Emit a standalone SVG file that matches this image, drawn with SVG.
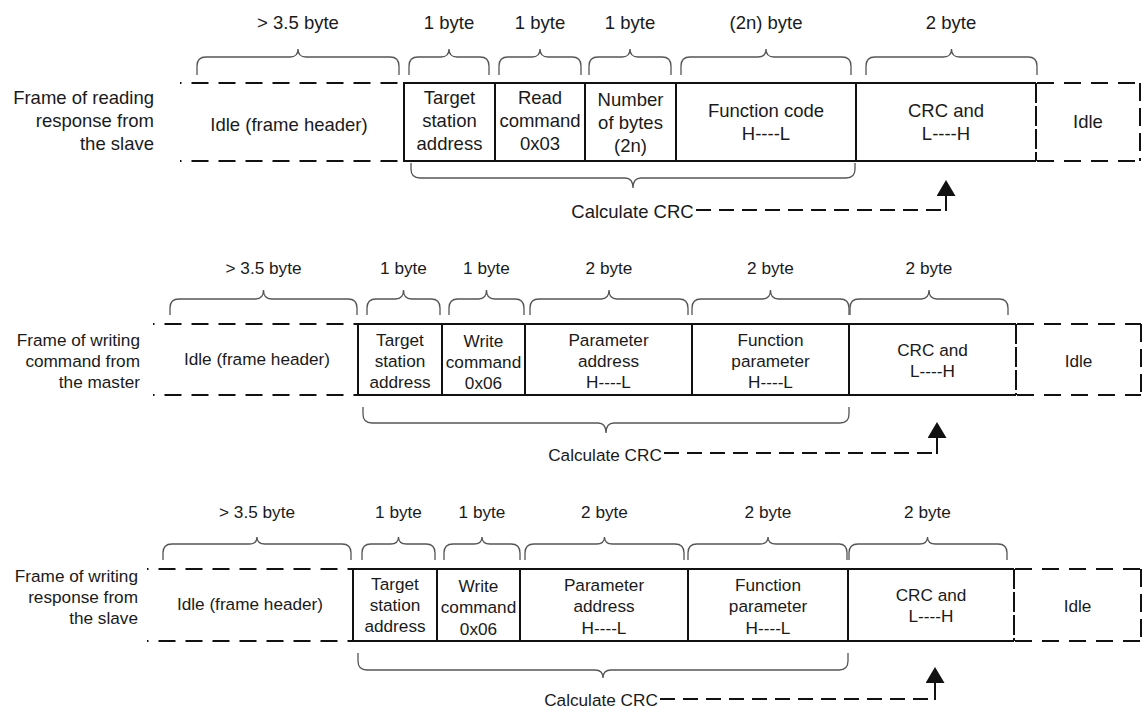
<svg xmlns="http://www.w3.org/2000/svg" width="1145" height="711" viewBox="0 0 1145 711">
<style>
.t{font-family:"Liberation Sans",Arial,sans-serif;fill:#1a1a1a;text-anchor:middle}
.f1{font-size:18.5px}
.f2{font-size:17.2px}
.r{text-anchor:end}
.solid{stroke:#111;stroke-width:2;fill:none}
.dash{stroke:#111;stroke-width:2;stroke-dasharray:17 10;fill:none}
.dl{stroke-dashoffset:15.5}
.vdash{stroke:#111;stroke-width:2;stroke-dasharray:18 7;fill:none}
.sdash{stroke:#111;stroke-width:2;stroke-dasharray:20 3;fill:none}
.brace{stroke:#555;stroke-width:1.3;fill:none}
.conn{stroke:#111;stroke-width:2;stroke-dasharray:15 8;fill:none}
.shaft{stroke:#111;stroke-width:2;fill:none}
</style>
<defs>
<marker id="ah" viewBox="0 0 16 19" markerWidth="16" markerHeight="19" refX="10" refY="9.5" orient="auto" markerUnits="userSpaceOnUse">
<path d="M0,0 L16,9.5 L0,19 z" fill="#111"/>
</marker>
</defs>

<!-- ===== Row 1 ===== -->
<g id="r1-title">
<text class="t f1 r" x="154" y="104">Frame of reading</text>
<text class="t f1 r" x="154" y="127">response from</text>
<text class="t f1 r" x="154" y="150">the slave</text>
</g>
<g id="r1-idle-head">
<path class="dash dl" d="M180 83 H403"/>
<path class="dash dl" d="M180 161 H403"/>
<text class="t f1" x="289" y="131">Idle (frame header)</text>
</g>
<g id="r1-target">
<path class="solid" d="M404 83 H495 M404 161 H495 M404 82 V162"/>
<text class="t f1" x="449.5" y="104">Target</text>
<text class="t f1" x="449.5" y="127">station</text>
<text class="t f1" x="449.5" y="150">address</text>
</g>
<g id="r1-read">
<path class="solid" d="M495 83 H585 M495 161 H585 M495 82 V162"/>
<text class="t f1" x="540" y="104">Read</text>
<text class="t f1" x="540" y="127">command</text>
<text class="t f1" x="540" y="150">0x03</text>
</g>
<g id="r1-number">
<path class="solid" d="M585 83 H676 M585 161 H676 M585 82 V162"/>
<text class="t f1" x="630.5" y="106">Number</text>
<text class="t f1" x="630.5" y="129">of bytes</text>
<text class="t f1" x="630.5" y="152">(2n)</text>
</g>
<g id="r1-function">
<path class="solid" d="M676 83 H856 M676 161 H856 M676 82 V162"/>
<text class="t f1" x="766" y="117">Function code</text>
<text class="t f1" x="766" y="140">H----L</text>
</g>
<g id="r1-crc">
<path class="solid" d="M856 83 H1036 M856 161 H1036 M856 82 V162"/>
<path class="sdash" d="M1036 83 V161"/>
<text class="t f1" x="946" y="117">CRC and</text>
<text class="t f1" x="946" y="140">L----H</text>
</g>
<g id="r1-idle-tail">
<path class="dash" d="M1037 83 H1140 M1037 161 H1140"/>
<path class="vdash" d="M1140 83 V161"/>
<text class="t f1" x="1088" y="128">Idle</text>
</g>
<g id="r1-sizes">
<text class="t f1" x="298" y="29">&gt; 3.5 byte</text>
<text class="t f1" x="449" y="29">1 byte</text>
<text class="t f1" x="540" y="29">1 byte</text>
<text class="t f1" x="630" y="29">1 byte</text>
<text class="t f1" x="766" y="29">(2n) byte</text>
<text class="t f1" x="951" y="29">2 byte</text>
<path class="brace" d="M197 75 V66 Q197 57 206 57 H290 Q298 57 298 49 Q298 57 306 57 H390 Q399 57 399 66 V75"/>
<path class="brace" d="M409 75 V66 Q409 57 418 57 H441 Q449 57 449 49 Q449 57 457 57 H480 Q489 57 489 66 V75"/>
<path class="brace" d="M499 75 V66 Q499 57 508 57 H532 Q540 57 540 49 Q540 57 548 57 H572 Q581 57 581 66 V75"/>
<path class="brace" d="M589 75 V66 Q589 57 598 57 H622 Q630 57 630 49 Q630 57 638 57 H662 Q671 57 671 66 V75"/>
<path class="brace" d="M681 75 V66 Q681 57 690 57 H758 Q766 57 766 49 Q766 57 774 57 H842 Q851 57 851 66 V75"/>
<path class="brace" d="M866 75 V66 Q866 57 875 57 H943.5 Q951.5 57 951.5 49 Q951.5 57 959.5 57 H1028 Q1037 57 1037 66 V75"/>
<path class="brace" d="M411 163 V169 Q411 178 420 178 H625 Q633 178 633 188 Q633 178 641 178 H846 Q855 178 855 169 V163"/>
<text class="t f1" x="632.5" y="217.5">Calculate CRC</text>
</g>

<!-- ===== Row 2 ===== -->
<g id="r2-title">
<text class="t f2 r" x="140" y="346">Frame of writing</text>
<text class="t f2 r" x="140" y="367">command from</text>
<text class="t f2 r" x="140" y="388">the master</text>
</g>
<g id="r2-idle-head">
<path class="dash dl" d="M153 324 H357"/>
<path class="dash dl" d="M153 395 H357"/>
<text class="t f2" x="257" y="364.5">Idle (frame header)</text>
</g>
<g id="r2-target">
<path class="solid" d="M358 324 H442 M358 395 H442 M358 323 V396"/>
<text class="t f2" x="400" y="346">Target</text>
<text class="t f2" x="400" y="367">station</text>
<text class="t f2" x="400" y="388">address</text>
</g>
<g id="r2-write">
<path class="solid" d="M442 324 H525 M442 395 H525 M442 323 V396"/>
<text class="t f2" x="483.5" y="347">Write</text>
<text class="t f2" x="483.5" y="368">command</text>
<text class="t f2" x="483.5" y="389">0x06</text>
</g>
<g id="r2-param">
<path class="solid" d="M525 324 H692 M525 395 H692 M525 323 V396"/>
<text class="t f2" x="608.5" y="345.5">Parameter</text>
<text class="t f2" x="608.5" y="366.5">address</text>
<text class="t f2" x="608.5" y="387.5">H----L</text>
</g>
<g id="r2-function">
<path class="solid" d="M692 324 H849 M692 395 H849 M692 323 V396"/>
<text class="t f2" x="770.5" y="345.5">Function</text>
<text class="t f2" x="770.5" y="366.5">parameter</text>
<text class="t f2" x="770.5" y="387.5">H----L</text>
</g>
<g id="r2-crc">
<path class="solid" d="M849 324 H1016 M849 395 H1016 M849 323 V396"/>
<path class="sdash" d="M1016 324 V395"/>
<text class="t f2" x="932.5" y="355.5">CRC and</text>
<text class="t f2" x="932.5" y="377">L----H</text>
</g>
<g id="r2-idle-tail">
<path class="dash" d="M1017 324 H1141 M1017 395 H1141"/>
<path class="vdash" d="M1141 324 V395"/>
<text class="t f2" x="1078.5" y="366.5">Idle</text>
</g>
<g id="r2-sizes">
<text class="t f2" x="263.5" y="274">&gt; 3.5 byte</text>
<text class="t f2" x="403.5" y="274">1 byte</text>
<text class="t f2" x="486.5" y="274">1 byte</text>
<text class="t f2" x="609" y="274">2 byte</text>
<text class="t f2" x="770.5" y="274">2 byte</text>
<text class="t f2" x="929" y="274">2 byte</text>
<path class="brace" d="M170 315 V308 Q170 299 179 299 H255.5 Q263.5 299 263.5 290 Q263.5 299 271.5 299 H348 Q357 299 357 308 V315"/>
<path class="brace" d="M367 315 V308 Q367 299 376 299 H395.5 Q403.5 299 403.5 290 Q403.5 299 411.5 299 H431 Q440 299 440 308 V315"/>
<path class="brace" d="M449 315 V308 Q449 299 458 299 H478.5 Q486.5 299 486.5 290 Q486.5 299 494.5 299 H515 Q524 299 524 308 V315"/>
<path class="brace" d="M530 315 V308 Q530 299 539 299 H601 Q609 299 609 290 Q609 299 617 299 H679 Q688 299 688 308 V315"/>
<path class="brace" d="M692 315 V308 Q692 299 701 299 H762.5 Q770.5 299 770.5 290 Q770.5 299 778.5 299 H840 Q849 299 849 308 V315"/>
<path class="brace" d="M850 315 V308 Q850 299 859 299 H921 Q929 299 929 290 Q929 299 937 299 H999 Q1008 299 1008 308 V315"/>
<path class="brace" d="M363 407 V414 Q363 423 372 423 H598 Q606 423 606 433 Q606 423 614 423 H840 Q849 423 849 414 V407"/>
<text class="t f2" x="605" y="461">Calculate CRC</text>
</g>

<!-- ===== Row 3 ===== -->
<g id="r3-title">
<text class="t f2 r" x="138" y="582">Frame of writing</text>
<text class="t f2 r" x="138" y="603">response from</text>
<text class="t f2 r" x="138" y="624">the slave</text>
</g>
<g id="r3-idle-head">
<path class="dash dl" d="M147 569 H352"/>
<path class="dash dl" d="M147 641 H352"/>
<text class="t f2" x="250" y="610">Idle (frame header)</text>
</g>
<g id="r3-target">
<path class="solid" d="M353 569 H437 M353 641 H437 M353 568 V642"/>
<text class="t f2" x="395" y="590">Target</text>
<text class="t f2" x="395" y="611">station</text>
<text class="t f2" x="395" y="632">address</text>
</g>
<g id="r3-write">
<path class="solid" d="M437 569 H520 M437 641 H520 M437 568 V642"/>
<text class="t f2" x="478.5" y="591.5">Write</text>
<text class="t f2" x="478.5" y="613">command</text>
<text class="t f2" x="478.5" y="634.5">0x06</text>
</g>
<g id="r3-param">
<path class="solid" d="M520 569 H688 M520 641 H688 M520 568 V642"/>
<text class="t f2" x="604" y="590.5">Parameter</text>
<text class="t f2" x="604" y="612">address</text>
<text class="t f2" x="604" y="633.5">H----L</text>
</g>
<g id="r3-function">
<path class="solid" d="M688 569 H848 M688 641 H848 M688 568 V642"/>
<text class="t f2" x="768" y="590.5">Function</text>
<text class="t f2" x="768" y="612">parameter</text>
<text class="t f2" x="768" y="633.5">H----L</text>
</g>
<g id="r3-crc">
<path class="solid" d="M848 569 H1014 M848 641 H1014 M848 568 V642"/>
<path class="sdash" d="M1014 569 V641"/>
<text class="t f2" x="931" y="600.5">CRC and</text>
<text class="t f2" x="931" y="622">L----H</text>
</g>
<g id="r3-idle-tail">
<path class="dash" d="M1015 569 H1141 M1015 641 H1141"/>
<path class="vdash" d="M1141 569 V641"/>
<text class="t f2" x="1077.5" y="611.5">Idle</text>
</g>
<g id="r3-sizes">
<text class="t f2" x="257" y="518">&gt; 3.5 byte</text>
<text class="t f2" x="398.5" y="518">1 byte</text>
<text class="t f2" x="482" y="518">1 byte</text>
<text class="t f2" x="604.5" y="518">2 byte</text>
<text class="t f2" x="768" y="518">2 byte</text>
<text class="t f2" x="927.5" y="518">2 byte</text>
<path class="brace" d="M163 560 V553 Q163 544 172 544 H249 Q257 544 257 537 Q257 544 265 544 H342 Q351 544 351 553 V560"/>
<path class="brace" d="M362 560 V553 Q362 544 371 544 H390.5 Q398.5 544 398.5 537 Q398.5 544 406.5 544 H426 Q435 544 435 553 V560"/>
<path class="brace" d="M444 560 V553 Q444 544 453 544 H474 Q482 544 482 537 Q482 544 490 544 H511 Q520 544 520 553 V560"/>
<path class="brace" d="M525 560 V553 Q525 544 534 544 H596.5 Q604.5 544 604.5 537 Q604.5 544 612.5 544 H675 Q684 544 684 553 V560"/>
<path class="brace" d="M688 560 V553 Q688 544 697 544 H760 Q768 544 768 537 Q768 544 776 544 H839 Q847 544 847 553 V560"/>
<path class="brace" d="M849 560 V553 Q849 544 858 544 H919.5 Q927.5 544 927.5 537 Q927.5 544 935.5 544 H998 Q1007 544 1007 553 V560"/>
<path class="brace" d="M358 653 V661 Q358 670 367 670 H595 Q603 670 603 678 Q603 670 611 670 H839 Q848 670 848 661 V653"/>
<text class="t f2" x="601" y="706">Calculate CRC</text>
</g>

<!-- ===== Connectors ===== -->
<g id="connectors">
<path class="conn" d="M696 210 H946"/>
<path class="shaft" d="M946 211 V186" marker-end="url(#ah)"/>
<path class="conn" d="M664 453 H937"/>
<path class="shaft" d="M937 454 V428" marker-end="url(#ah)"/>
<path class="conn" d="M660 699 H935"/>
<path class="shaft" d="M935 700 V673" marker-end="url(#ah)"/>
</g>
</svg>
